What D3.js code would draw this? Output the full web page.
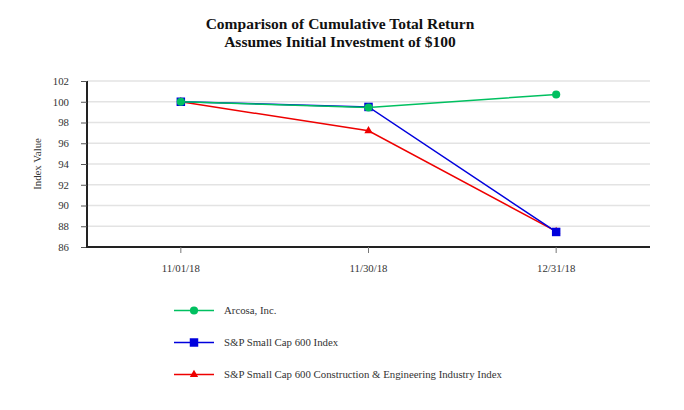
<!DOCTYPE html>
<html><head><meta charset="utf-8">
<script src="https://cdn.jsdelivr.net/npm/d3@7"></script>
<style>body{margin:0;background:#fff}svg{display:block}</style>
</head><body>
<svg id="c" width="684" height="410"></svg>
<script>
const categories = ["11/01/18", "11/30/18", "12/31/18"];
const seriesNames = ["Arcosa, Inc.", "S&P Small Cap 600 Index", "S&P Small Cap 600 Construction & Engineering Industry Index"];
const arcosa = [100, 99.45, 100.7];
const sp600 = [100, 99.5, 87.45];
const spConstruction = [100, 97.2, 87.5];
const yTicks = [86, 88, 90, 92, 94, 96, 98, 100, 102];

const colors = ["#00c060", "#0000dd", "#ee0000"];
const shapes = [d3.symbolCircle, d3.symbolSquare, d3.symbolTriangle];
const sizes = [52, 72, 30];
const series = [arcosa, sp600, spConstruction];

const svg = d3.select("#c");
const font = "'Liberation Serif', 'Times New Roman', serif";
const pLeft = 87, pRight = 650, pTop = 81, pBottom = 247;

const x = d3.scaleBand().domain(categories).range([pLeft, pRight]);
const y = d3.scaleLinear().domain([86, 102]).range([pBottom, pTop]);

// title
svg.append("text").attr("x", 340).attr("y", 29).attr("text-anchor", "middle")
  .attr("font-family", font).attr("font-weight", "bold").attr("font-size", 15.5).attr("fill", "#111").text("Comparison of Cumulative Total Return");
svg.append("text").attr("x", 340).attr("y", 47).attr("text-anchor", "middle")
  .attr("font-family", font).attr("font-weight", "bold").attr("font-size", 15.5).attr("fill", "#111").text("Assumes Initial Investment of $100");

// gridlines
svg.append("g").selectAll("line").data(yTicks.filter(d => d > 86)).join("line")
  .attr("x1", pLeft).attr("x2", pRight).attr("y1", d => y(d)).attr("y2", d => y(d))
  .attr("stroke", "#e3e3e3").attr("stroke-width", 1.5);

// y axis
const ya = svg.append("g").attr("transform", `translate(${pLeft},0)`)
  .call(d3.axisLeft(y).tickValues(yTicks).tickSize(6).tickPadding(12));
ya.attr("font-family", font);
ya.select(".domain").attr("stroke", "#222").attr("stroke-width", 2).attr("d", `M0,${pTop}V${pBottom+1}`);
ya.selectAll(".tick line").attr("stroke", "#555");
ya.selectAll("text").attr("font-family", font).attr("font-size", 10.8).attr("fill", "#333");

// x axis
const xa = svg.append("g").attr("transform", `translate(0,${pBottom})`)
  .call(d3.axisBottom(x).tickSize(6).tickPadding(11));
xa.attr("font-family", font);
xa.select(".domain").attr("stroke", "#222").attr("stroke-width", 2).attr("d", `M${pLeft-1},0H${pRight}`);
xa.selectAll(".tick line").attr("stroke", "#777");
xa.selectAll("text").attr("font-family", font).attr("font-size", 10.8).attr("fill", "#333");

// y label
svg.append("text").attr("transform", "translate(41,164) rotate(-90)").attr("text-anchor", "middle")
  .attr("font-family", font).attr("font-size", 10.8).attr("fill", "#333").text("Index Value");

const cx = d => x(d) + x.bandwidth() / 2;
const line = d3.line().x((d, i) => cx(categories[i])).y(d => y(d));

// draw order: red, blue, green
[2, 1, 0].forEach(si => {
  const g = svg.append("g");
  g.append("path").datum(series[si]).attr("d", line).attr("fill", "none")
    .attr("stroke", colors[si]).attr("stroke-width", 1.5);
  g.selectAll("path.m").data(series[si]).join("path").attr("class", "m")
    .attr("transform", (d, i) => `translate(${cx(categories[i])},${y(d)})`)
    .attr("d", d3.symbol().type(shapes[si]).size(sizes[si])).attr("fill", colors[si]);
});

// legend
const legY = [310.5, 342.5, 374.5];
seriesNames.forEach((n, i) => {
  const g = svg.append("g").attr("transform", `translate(0,${legY[i]})`);
  g.append("line").attr("x1", 174).attr("x2", 214).attr("y1", 0).attr("y2", 0)
    .attr("stroke", colors[i]).attr("stroke-width", 1.5);
  g.append("path").attr("transform", "translate(194,0)")
    .attr("d", d3.symbol().type(shapes[i]).size(sizes[i])).attr("fill", colors[i]);
  g.append("text").attr("x", 224).attr("y", 3.5).attr("font-family", font)
    .attr("font-size", 10.8).attr("fill", "#333").text(n);
});
</script>
</body></html>
